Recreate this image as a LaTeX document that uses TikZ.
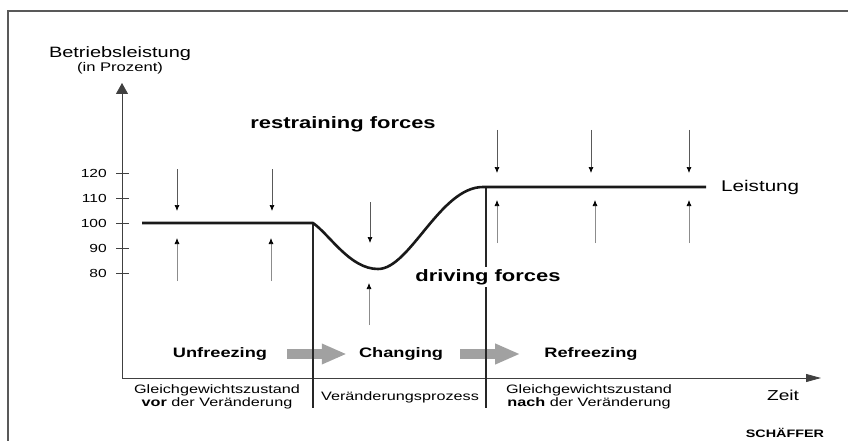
\documentclass[tikz,border=0pt]{standalone}
\usepackage{fontspec}
\setmainfont{Liberation Sans}[FakeStretch=1.33]
\usetikzlibrary{arrows.meta, positioning}

\newcommand{\fsz}[1]{\fontsize{#1}{#1}\selectfont}

\begin{document}
\begin{tikzpicture}[x=1pt, y=-1pt, inner sep=0pt,
    axis/.style={draw=black!75, line width=0.8pt},
    phase/.style={draw=black!85, line width=1.7pt},
    perf/.style={draw=black!90, line width=2.6pt, line join=round},
    restrain/.style={draw=black!65, line width=0.7pt, -{Latex[length=6pt,width=5pt,color=black]}},
    drive/.style={draw=black!45, line width=0.7pt, -{Latex[length=6pt,width=5pt,color=black]}},
    stage/.style={font=\fsz{13.7}\bfseries},
    force/.style={font=\fsz{16.5}\bfseries},
    span/.style={font=\fontsize{12.2}{13.5}\selectfont, align=center},
    move/.style={draw=black!37, line width=10pt, -{Triangle[length=25pt,width=19pt]}}]

    \useasboundingbox (0,0) rectangle (848,441);
    \draw[black!65, line width=1.4pt] (848,11) -- (8,11) -- (8,441);

    % axes
    \coordinate (O) at (122,378);
    \coordinate (ytip) at (122,83);
    \coordinate (xtip) at (821,378);
    \draw[axis, -{Triangle[length=11pt,width=12pt]}] (O) -- (ytip);
    \draw[axis, -{Triangle[length=15pt,width=8pt]}] (O) -- (xtip);

    \foreach \v/\y in {120/173, 110/198, 100/223, 90/248, 80/273} {
        \draw[axis] (116,\y) -- (129,\y);
        \node[anchor=east, font=\fsz{11.7}] (tick\v) at (107,\y) {\v};
    }

    \node[font=\fsz{15}] (ylab) at (120,54) {Betriebsleistung};
    \node[font=\fsz{12.5}] (yunit) at (120,68) {(in Prozent)};
    \node[font=\fsz{14.4}] (time) at (783,395) {Zeit};

    % stages
    \node[stage] (unf) at (220,354) {Unfreezing};
    \node[stage] (chg) at (401,354) {Changing};
    \node[stage] (ref) at (591,354) {Refreezing};
    \draw[move] ([xshift=20pt]unf.east) -- ([xshift=-12pt]chg.west);
    \draw[move] ([xshift=17pt]chg.east) -- ([xshift=-24pt]ref.west);

    % performance curve
    \coordinate (s0) at (142,223);
    \coordinate (s1) at (313,223);
    \coordinate (low) at (378,269);
    \coordinate (s2) at (483,187);
    \coordinate (s3) at (706,187);
    \coordinate (p1b) at (313,408);
    \coordinate (p2t) at (486,187);
    \coordinate (p2b) at (486,408);
    \draw[phase] (s1) -- (p1b);
    \draw[phase] (p2t) -- (p2b);
    \draw[perf] (s0) -- (s1) .. controls (330,235) and (350,269) .. (low)
        .. controls (410,269) and (440,187) .. (s2) -- (s3);
    \node[font=\fsz{15.5}, right=15pt of s3] (perfl) {Leistung};

    % forces
    \foreach \i/\x/\a/\b in {1/177/169/211, 2/272/169/211, 3/370/202/243,
                             4/497/130/173, 5/591/130/173, 6/689/130/173} {
        \coordinate (ra\i) at (\x,\a);
        \coordinate (rb\i) at (\x,\b);
        \draw[restrain] (ra\i) -- (rb\i);
    }
    \foreach \i/\x/\a/\b in {1/177/281/238, 2/271/281/238, 3/369/325/283,
                             4/497/243/200, 5/595/243/200, 6/689/243/200} {
        \coordinate (da\i) at (\x,\a);
        \coordinate (db\i) at (\x,\b);
        \draw[drive] (da\i) -- (db\i);
    }
    \node[force] (rst) at (343,124) {restraining forces};
    \node[force, fill=white, inner sep=2pt] (drv) at (488,277) {driving forces};

    % phases
    \node[span] (before) at (217,397) {Gleichgewichtszustand\\\textbf{vor} der Veränderung};
    \node[span] (during) at (400,397) {Veränderungsprozess};
    \node[span] (after) at (589,397) {Gleichgewichtszustand\\\textbf{nach} der Veränderung};

    \node[font=\fsz{10.8}\bfseries] (pub) at (785,433) {SCHÄFFER};
\end{tikzpicture}
\end{document}
